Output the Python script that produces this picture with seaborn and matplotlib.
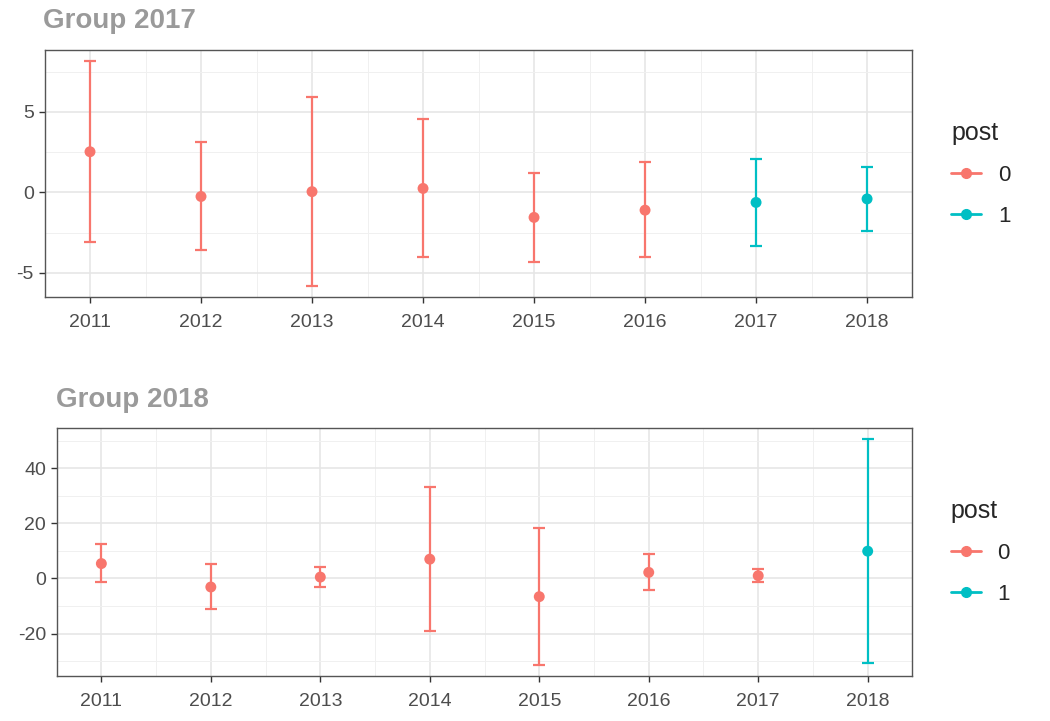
import numpy as np
import pandas as pd
import matplotlib
matplotlib.use("Agg")
import matplotlib.pyplot as plt
from matplotlib.lines import Line2D
from matplotlib.ticker import MultipleLocator
import seaborn as sns

# 데이터: 그림에서 읽은 추정치
years = [2011, 2012, 2013, 2014, 2015, 2016, 2017, 2018]

g17_est = [2.53, -0.25, 0.05, 0.25, -1.55, -1.10, -0.62, -0.40]
g17_lo = [-3.08, -3.58, -5.80, -4.00, -4.30, -4.00, -3.33, -2.40]
g17_hi = [8.15, 3.15, 5.90, 4.57, 1.22, 1.87, 2.10, 1.60]
g17_post = [0, 0, 0, 0, 0, 0, 1, 1]

g18_est = [5.4, -3.1, 0.5, 7.0, -6.6, 2.2, 1.0, 9.9]
g18_lo = [-1.45, -11.1, -3.0, -19.1, -31.3, -4.3, -1.3, -30.7]
g18_hi = [12.6, 5.2, 4.0, 33.2, 18.3, 8.9, 3.5, 50.5]
g18_post = [0, 0, 0, 0, 0, 0, 0, 1]

RED, CYAN = "#F8766D", "#00BFC4"
PAL = {0: RED, 1: CYAN}

sns.set_theme(style="whitegrid")
plt.rcParams["font.family"] = ["Liberation Sans", "DejaVu Sans"]
plt.rcParams["axes.unicode_minus"] = False

fig = plt.figure(figsize=(10.5, 7.21), dpi=100)


def panel(rect, title, title_x, title_y, est, lo, hi, post, ystep, yminor):
    df = pd.DataFrame({"year": years, "est": est, "lo": lo, "hi": hi, "post": post})
    ax = fig.add_axes(rect)
    for p, sub in df.groupby("post"):
        ax.errorbar(sub["year"], sub["est"],
                    yerr=[sub["est"] - sub["lo"], sub["hi"] - sub["est"]],
                    fmt="none", ecolor=PAL[p], elinewidth=1.6, capsize=4,
                    capthick=1.6, zorder=2)
    sns.scatterplot(data=df, x="year", y="est", hue="post", palette=PAL,
                    s=62, edgecolor="none", legend=False, ax=ax, zorder=3)
    # 축 범위 (ggplot 5% 확장 흉내)
    span = max(hi) - min(lo)
    ax.set_ylim(min(lo) - 0.05 * span, max(hi) + 0.05 * span)
    ax.set_xlim(years[0] - 0.405, years[-1] + 0.405)
    ax.set_xticks(years)
    ax.set_xticklabels([str(y) for y in years])
    ax.xaxis.set_minor_locator(MultipleLocator(0.5))
    ax.yaxis.set_major_locator(MultipleLocator(ystep))
    ax.yaxis.set_minor_locator(MultipleLocator(yminor))
    ax.grid(which="major", color="#E6E6E6", lw=1.2)
    ax.grid(which="minor", color="#F0F0F0", lw=0.7)
    ax.set_axisbelow(True)
    for s in ax.spines.values():
        s.set_color("#555555")
        s.set_linewidth(1.0)
    ax.tick_params(axis="both", which="major", direction="out", length=4,
                   width=1, color="#333333", labelcolor="#4D4D4D",
                   labelsize=14, pad=4, bottom=True, left=True)
    ax.tick_params(axis="x", which="major", pad=8)
    ax.tick_params(which="minor", length=0)
    ax.set_xlabel("")
    ax.set_ylabel("")
    fig.text(title_x, title_y, title, fontsize=20, fontweight="bold",
             color="#9A9A9A", ha="left", va="center")
    handles = [Line2D([0], [0], color=PAL[k], marker="o", markersize=7,
                      lw=2) for k in (0, 1)]
    ax.legend(handles, ["0", "1"], title="post", loc="center left",
              bbox_to_anchor=(1.022, 0.5), frameon=False,
              fontsize=16, title_fontsize=18, handlelength=1.35,
              handletextpad=0.75, labelspacing=0.9, alignment="left")
    return ax


panel([0.0429, 0.588, 0.8257, 0.3426], "Group 2017", 0.041, 1 - 21 / 721,
      g17_est, g17_lo, g17_hi, g17_post, 5, 2.5)
panel([0.0543, 0.0624, 0.8143, 0.344], "Group 2018", 0.053, 1 - 400 / 721,
      g18_est, g18_lo, g18_hi, g18_post, 20, 10)

fig.savefig("out.png", dpi=100, facecolor="white")
